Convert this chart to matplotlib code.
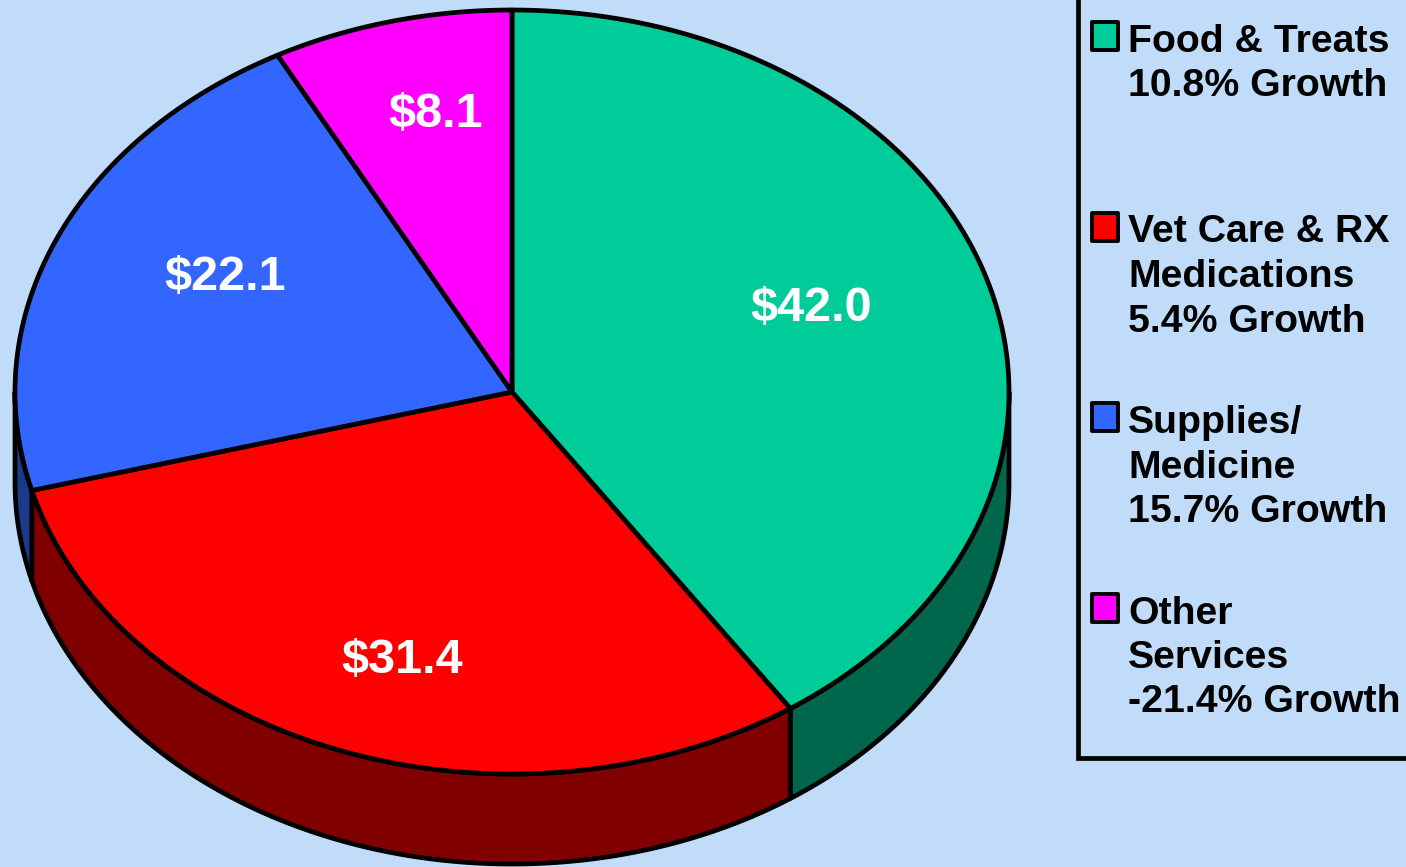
import numpy as np
import matplotlib.pyplot as plt
from matplotlib.patches import Polygon, Rectangle

plt.rcParams['font.family'] = ['Liberation Sans', 'DejaVu Sans']

# data
names = ["Food & Treats", "Vet Care & RX\nMedications", "Supplies/\nMedicine", "Other\nServices"]
values = [42.0, 31.4, 22.1, 8.1]
growth = [10.8, 5.4, 15.7, -21.4]
top_colors = ["#00CC99", "#FF0000", "#3366FF", "#FF00FF"]
side_colors = ["#00664C", "#800000", "#1C3A8A", "#800080"]
bg = "#C0DCF9"

# pie geometry (pixels)
CX, CY = 512, 392
RX, RY = 497, 382
DEPTH = 90
LW = 3.4

fig = plt.figure(figsize=(14.06, 8.67), dpi=100, facecolor=bg)
ax = fig.add_axes([0, 0, 1, 1])
ax.set_xlim(0, 1406)
ax.set_ylim(867, 0)
ax.axis('off')

vals = np.array(values)
cum = np.concatenate([[0], np.cumsum(vals)]) / vals.sum()
# angles in degrees, start at 12 o'clock, going clockwise
theta = 90 - 360 * cum


def arc(a0, a1, dy=0, n=200):
    t = np.radians(np.linspace(a0, a1, n))
    return np.column_stack([CX + RX * np.cos(t), CY - RY * np.sin(t) + dy])


# side walls (only the front half, angles between -180 and 0)
for i in range(len(vals)):
    a0, a1 = theta[i], theta[i + 1]  # a0 > a1
    lo = max(a1, -180)
    hi = min(a0, 0)
    if lo >= hi:
        continue
    top = arc(hi, lo)
    bot = arc(lo, hi, DEPTH)
    ax.add_patch(Polygon(np.vstack([top, bot]), closed=True, facecolor=side_colors[i],
                         edgecolor='black', lw=LW, joinstyle='round', zorder=1))

# top faces
for i in range(len(vals)):
    pts = np.vstack([[CX, CY], arc(theta[i], theta[i + 1])])
    ax.add_patch(Polygon(pts, closed=True, facecolor=top_colors[i],
                         edgecolor='black', lw=LW, joinstyle='round', zorder=2))
    mid = np.radians((theta[i] + theta[i + 1]) / 2)
    ax.text(CX + 0.63 * RX * np.cos(mid), CY - 0.75 * RY * np.sin(mid), f"${values[i]:.1f}",
            color='white', fontsize=35, fontweight='bold', ha='center', va='center', zorder=3)

# legend
ax.add_patch(Rectangle((1078, -20), 400, 778, facecolor='none', edgecolor='black', lw=LW, zorder=4))
for i, name in enumerate(names):
    lines = (name + f"\n{growth[i]:.1f}% Growth").split("\n")
    base = 52 + i * 190.5
    ax.add_patch(Rectangle((1092, base - 30), 26, 28, facecolor=top_colors[i],
                           edgecolor='black', lw=2.8, joinstyle='round', zorder=5))
    for j, line in enumerate(lines):
        ax.text(1128, base + j * 44.5, line, fontsize=28.3, fontweight='bold',
                ha='left', va='baseline', color='black', zorder=5)

fig.savefig("out.png", dpi=100, facecolor=bg)
